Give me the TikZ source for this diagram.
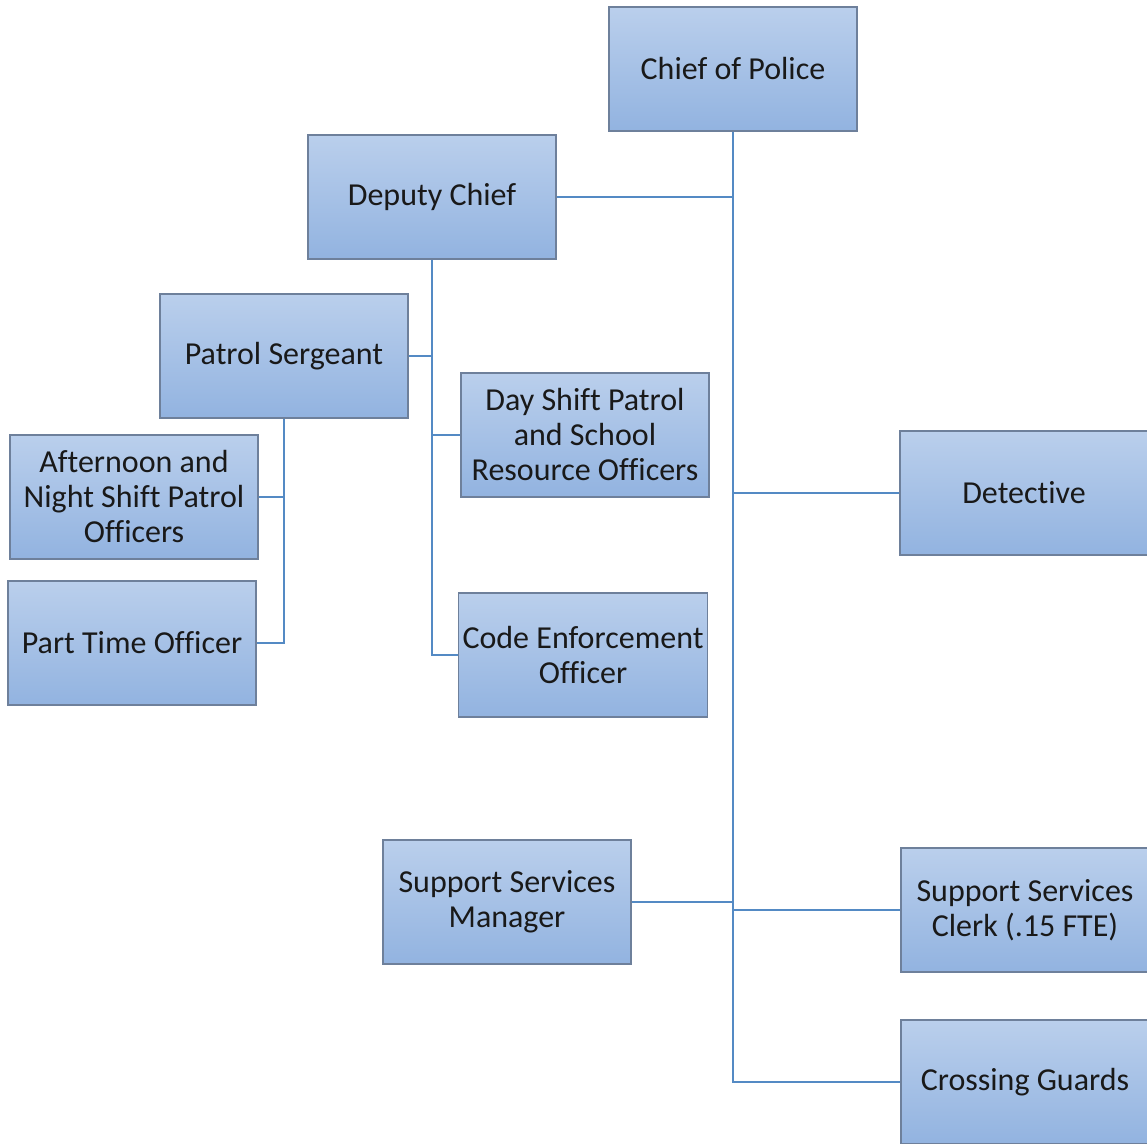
\documentclass[tikz,border=0pt]{standalone}
\usepackage{fontspec}
\setmainfont{Carlito}[Ligatures=NoCommon]
\usetikzlibrary{positioning,calc}

\definecolor{boxtop}{RGB}{186,207,236}
\definecolor{boxbot}{RGB}{146,179,224}
\definecolor{boxline}{RGB}{110,128,155}
\definecolor{linkblue}{RGB}{84,138,196}

\begin{document}
\begin{tikzpicture}[x=0.5pt, y=-0.5pt,
    post/.style={rectangle, draw=boxline, line width=0.7pt,
      top color=boxtop, bottom color=boxbot,
      minimum width=124pt, minimum height=62pt, inner sep=2pt,
      align=center, text=black!90,
      font=\fontsize{16}{17.5}\selectfont},
    link/.style={draw=linkblue, line width=1.25pt}]
    \useasboundingbox[fill=white] (0,0) rectangle (1147,1144);
    % top of the chart
    \node [post] (chief)     at (733,69)   {Chief of Police};
    \node [post] (deputy)    at (432,197)  {Deputy Chief};
    \node [post] (sergeant)  at (284,356)  {Patrol Sergeant};
    \node [post] (dayshift)  at (585,435)  {Day Shift Patrol\\and School\\Resource Officers};
    \node [post] (night)     at (134,497)  {Afternoon and\\Night Shift Patrol\\Officers};
    \node [post] (parttime)  at (132,643)  {Part Time Officer};
    \node [post] (code)      at (583,655)  {Code Enforcement\\Officer};
    \node [post] (detective) at (1024,493) {Detective};
    % support side
    \node [post] (manager)   at (507,902)  {Support Services\\Manager};
    \node [post] (clerk)     at (1025,910) {Support Services\\Clerk (.15 FTE)};
    \node [post] (guards)    at (1025,1082) {Crossing Guards};

    \draw [link] (chief.south) |- (guards.west);
    \draw [link] (deputy.east) -- (deputy.east -| chief.south);
    \draw [link] (detective.west) -- (detective.west -| chief.south);
    \draw [link] (manager.east) -- (manager.east -| chief.south);
    \draw [link] (clerk.west) -- (clerk.west -| chief.south);
    \draw [link] (deputy.south) |- (code.west);
    \draw [link] (dayshift.west) -- (dayshift.west -| deputy.south);
    \draw [link] (sergeant.east) -- (sergeant.east -| deputy.south);
    \draw [link] (sergeant.south) |- (parttime.east);
    \draw [link] (night.east) -- (night.east -| sergeant.south);
\end{tikzpicture}
\end{document}
